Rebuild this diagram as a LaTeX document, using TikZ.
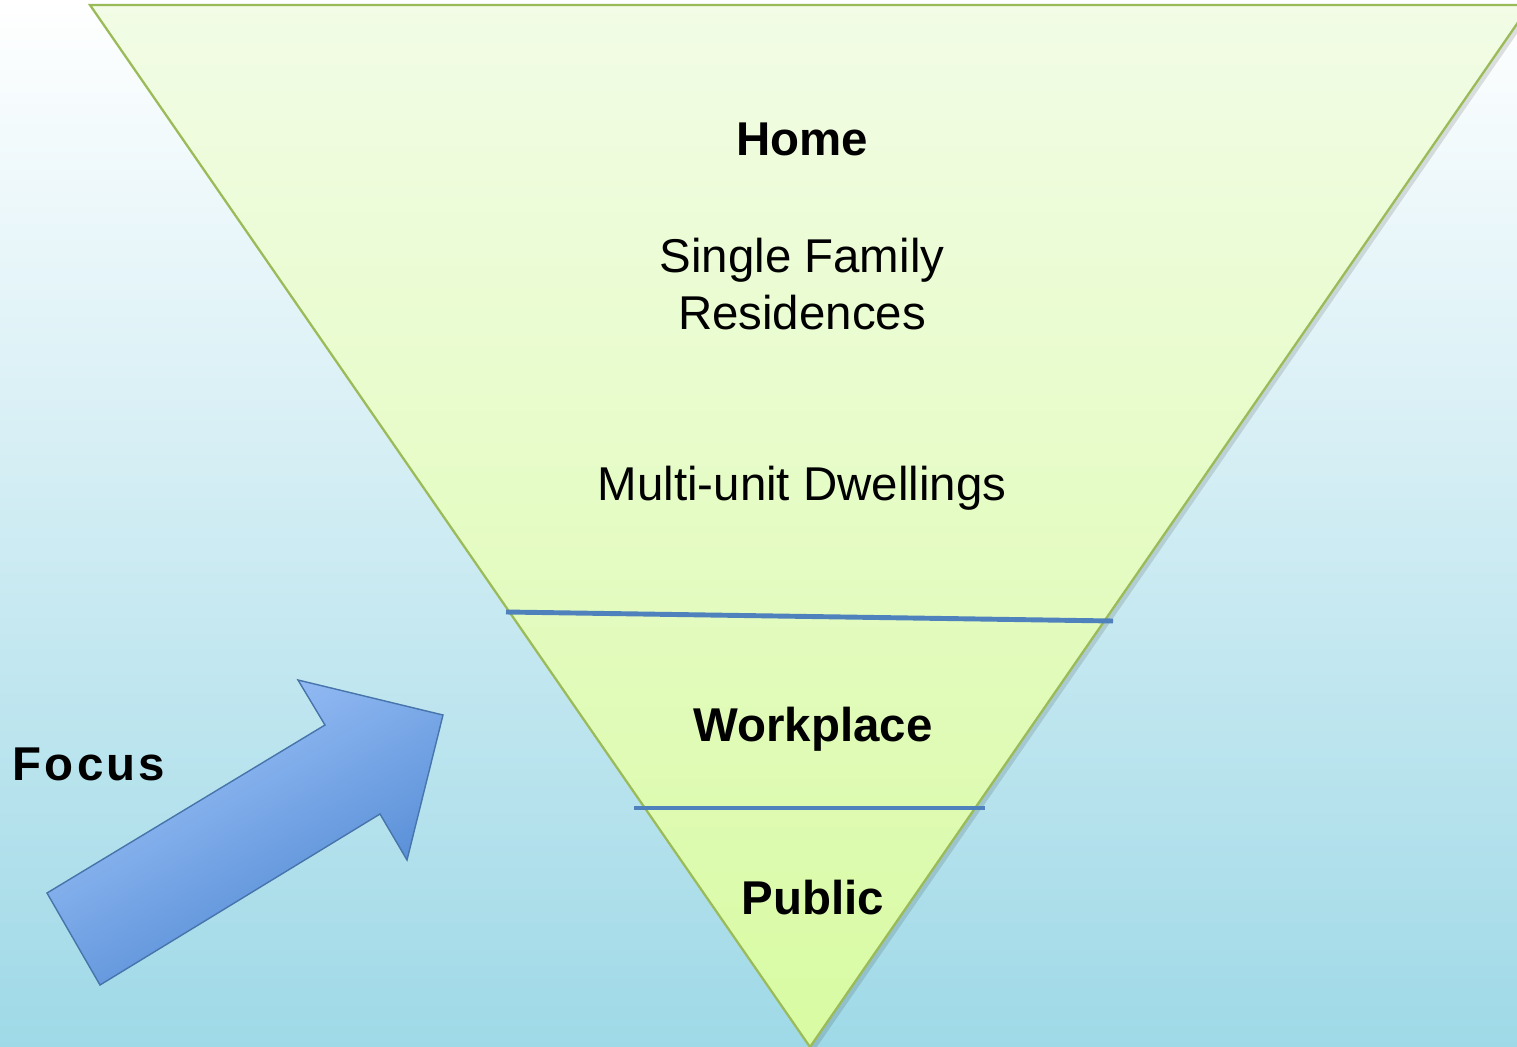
\documentclass[tikz,border=0pt]{standalone}
\usepackage{fontspec}
\setmainfont{Liberation Sans}
\usetikzlibrary{positioning}
\definecolor{skytop}{HTML}{FFFFFF}
\definecolor{skybottom}{HTML}{9FD9E7}
\definecolor{funneltop}{HTML}{F2FCE6}
\definecolor{funnelbottom}{HTML}{D8FBA2}
\definecolor{funnelrim}{HTML}{9BBB59}
\definecolor{tierline}{HTML}{4F81BD}
\definecolor{arrowlight}{HTML}{A2C6FB}
\definecolor{arrowdark}{HTML}{4A84D0}

\begin{document}
\begin{tikzpicture}[
        x=0.02cm, y=-0.02cm,
        label/.style = {align=center, font=\fontsize{27}{33}\selectfont, inner sep=0pt},
        title/.style = {label, font=\fontsize{27}{33}\selectfont\bfseries},
        divider/.style = {draw=tierline, line width=2.8pt},
        rim/.style = {draw=funnelrim, line width=1.3pt, line join=miter}
    ]

        \useasboundingbox (0,0) rectangle (1517,1047);

        % Sky background
        \shade[top color=skytop, bottom color=skybottom] (0,0) rectangle (1517,1047);

        % Funnel corners
        \coordinate (topleft) at (90,5);
        \coordinate (topright) at (1530,5);
        \coordinate (apex) at (810,1047);

        \begin{scope}
            \clip (0,0) rectangle (1517,1047);
            % soft shadow
            \fill[black, opacity=0.12] ([shift={(4,4)}]topleft) -- ([shift={(4,4)}]topright) -- ([shift={(4,4)}]apex) -- cycle;
            \shade[top color=funneltop, bottom color=funnelbottom, rim] (topleft) -- (topright) -- (apex) -- cycle;
        \end{scope}

        % Tier dividers
        \coordinate (homeL) at (506,612);
        \coordinate (homeR) at (1113,621);
        \coordinate (workL) at (634,808);
        \coordinate (workR) at (985,808);
        \draw[divider] (homeL) -- (homeR);
        \draw[divider] (workL) -- (workR);

        % Tier labels
        \node (home) [title] at (802,139) {Home};
        \node (single) [label] at (802,284) {Single Family\\[-0.6pt]Residences};
        \node (multi) [label] at (802,488) {Multi-unit Dwellings};
        \node (work) [title] at (813,729) {Workplace};
        \node (public) [title] at (813,898) {Public};

        % Focus arrow
        \shade[top color=arrowlight, bottom color=arrowdark, shading angle=30, draw=tierline!90!black, line width=0.8pt, line join=miter]
            (47,893) -- (325,725) -- (298,680) -- (443,715) -- (407,860) -- (380,814) -- (100,985) -- cycle;
        \node (focus) [title] at (89,764) {F\kern1.8pt o\kern1.8pt c\kern1.8pt u\kern1.8pt s};

    \end{tikzpicture}
\end{document}
